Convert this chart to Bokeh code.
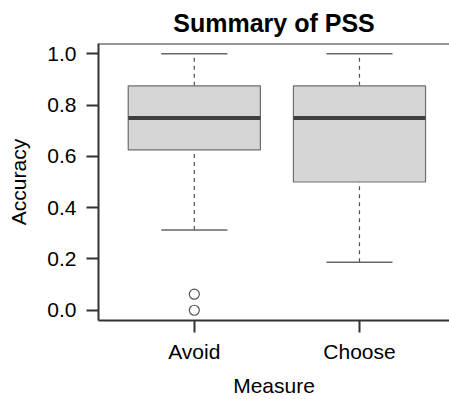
from bokeh.plotting import figure
from bokeh.models import Range1d, FixedTicker, Span, ColumnDataSource
from bokeh.embed import file_html
from bokeh.resources import INLINE

# ---- data ----
categories = ["Avoid", "Choose"]
q1 = [0.625, 0.5]
median = [0.75, 0.75]
q3 = [0.875, 0.875]
whisker_low = [0.3125, 0.1875]
whisker_high = [1.0, 1.0]
outlier_cat = ["Avoid", "Avoid"]
outlier_val = [0.0625, 0.0]
y_ticks = [0.0, 0.2, 0.4, 0.6, 0.8, 1.0]

FONT = "Liberation Sans"
BOX_W = 0.8
CAP_W = 0.4

xpos = [i + 1 for i in range(len(categories))]
src = ColumnDataSource(dict(
    x=xpos,
    left=[x - BOX_W / 2 for x in xpos],
    right=[x + BOX_W / 2 for x in xpos],
    cap_l=[x - CAP_W / 2 for x in xpos],
    cap_r=[x + CAP_W / 2 for x in xpos],
    q1=q1, med=median, q3=q3, lo=whisker_low, hi=whisker_high,
))
out_src = ColumnDataSource(dict(
    x=[categories.index(c) + 1 for c in outlier_cat],
    y=outlier_val,
))

p = figure(width=449, height=399, output_backend="svg", toolbar_location=None,
           x_range=Range1d(0.42, 2.545), y_range=Range1d(-0.04, 1.04),
           min_border_left=98, min_border_top=43, min_border_bottom=77,
           min_border_right=0, title="Summary of PSS")

p.outline_line_color = None
p.grid.visible = False
p.background_fill_color = "white"
p.border_fill_color = "white"

p.title.text_font = FONT
p.title.text_font_size = "25px"
p.title.text_font_style = "bold"
p.title.align = "center"
p.title.text_color = "black"
p.title.standoff = 13

# whiskers (dashed)
p.segment(x0="x", y0="q3", x1="x", y1="hi", source=src, line_color="#505050",
          line_width=1.2, line_dash="4 4")
p.segment(x0="x", y0="lo", x1="x", y1="q1", source=src, line_color="#505050",
          line_width=1.2, line_dash="4 4")
# caps
p.segment(x0="cap_l", y0="hi", x1="cap_r", y1="hi", source=src, line_color="#666666", line_width=1.5)
p.segment(x0="cap_l", y0="lo", x1="cap_r", y1="lo", source=src, line_color="#666666", line_width=1.5)
# boxes
p.quad(left="left", right="right", bottom="q1", top="q3", source=src,
       fill_color="#d6d6d6", line_color="#6f6f6f", line_width=1.2)
# medians
p.segment(x0="left", y0="med", x1="right", y1="med", source=src, line_color="#3f3f3f", line_width=4)
# outliers
p.scatter(x="x", y="y", source=out_src, size=10, marker="circle",
          fill_color=None, line_color="#555555", line_width=1.2)

# top frame line
p.add_layout(Span(location=1.04, dimension="width", line_color="#333333", line_width=2))

for ax in (p.xaxis[0], p.yaxis[0]):
    ax.axis_line_color = "#333333"
    ax.axis_line_width = 2
    ax.major_tick_line_color = "#333333"
    ax.major_tick_line_width = 2
    ax.major_tick_in = 0
    ax.major_tick_out = 12
    ax.minor_tick_line_color = None
    ax.major_label_text_font = FONT
    ax.major_label_text_font_size = "21px"
    ax.major_label_text_color = "black"
    ax.axis_label_text_font = FONT
    ax.axis_label_text_font_size = "21px"
    ax.axis_label_text_font_style = "normal"
    ax.axis_label_text_color = "black"

p.xaxis.ticker = FixedTicker(ticks=xpos)
p.xaxis.major_label_overrides = {x: c for x, c in zip(xpos, categories)}
p.xaxis.axis_label = "Measure"
p.xaxis.major_label_standoff = 7
p.xaxis.axis_label_standoff = 8

p.yaxis.ticker = FixedTicker(ticks=y_ticks)
p.yaxis.major_label_overrides = {t: f"{t:.1f}" for t in y_ticks}
p.yaxis.axis_label = "Accuracy"
p.yaxis.major_label_standoff = 10
p.yaxis.axis_label_standoff = 14

open("out.html", "w").write(file_html(p, INLINE))
